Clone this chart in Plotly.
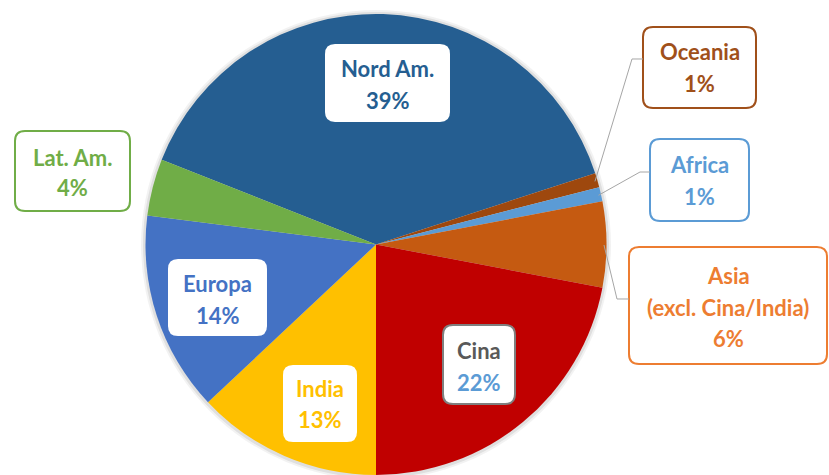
import math
import plotly.graph_objects as go

# ---- data ----
categories = ["Nord Am.", "Oceania", "Africa", "Asia (excl. Cina/India)",
              "Cina", "India", "Europa", "Lat. Am."]
shares = [39, 1, 1, 6, 22, 13, 14, 4]

# ---- styles ----
slice_colors = ["#255E91", "#9E480E", "#5B9BD5", "#C55A11",
                "#C00000", "#FFC000", "#4472C4", "#70AD47"]

W, H = 829, 475
CX, CY, R = 376, 245, 231
FONT = "Lato"
FS = 22


def px(x):
    return x / W


def py(y):
    return 1 - y / H


# India slice starts at 6 o'clock
idx_india = categories.index("India")
total = sum(shares)
rotation = 180 - 360 * sum(shares[:idx_india]) / total

fig = go.Figure()
fig.add_trace(go.Pie(
    labels=categories, values=shares, sort=False, direction="clockwise",
    rotation=rotation, textinfo="none", hoverinfo="label+percent",
    marker=dict(colors=slice_colors, line=dict(width=0)),
    domain=dict(x=[px(CX - R), px(CX + R)], y=[max(0, py(CY + R)), py(CY - R)]),
    showlegend=False,
))


def rrect(x0, y0, x1, y1, r=10):
    pts = [("M", x0 + r, y0), ("L", x1 - r, y0), ("Q", x1, y0, x1, y0 + r),
           ("L", x1, y1 - r), ("Q", x1, y1, x1 - r, y1), ("L", x0 + r, y1),
           ("Q", x0, y1, x0, y1 - r), ("L", x0, y0 + r), ("Q", x0, y0, x0 + r, y0)]
    s = ""
    for p in pts:
        cmd = p[0]
        coords = p[1:]
        parts = []
        for i in range(0, len(coords), 2):
            parts.append(f"{px(coords[i]):.5f},{py(coords[i+1]):.5f}")
        s += cmd + " " + " ".join(parts) + " "
    return s + "Z"


# label layout: box (px), line centers, line texts colours, border colour
label_layout = {
    "Nord Am.": dict(box=(325, 44, 450, 122), ys=(68, 100), lines=["Nord Am."],
                     colors=["#255E91", "#255E91"], border=None),
    "Oceania": dict(box=(643, 27, 756, 108), ys=(52, 83), lines=["Oceania"],
                    colors=["#A0501A", "#A0501A"], border="#A0501A",
                    leader=[(632, 59), (643, 59)]),
    "Africa": dict(box=(650, 139, 749, 221), ys=(164, 196), lines=["Africa"],
                   colors=["#5B9BD5", "#5B9BD5"], border="#5B9BD5",
                   leader=[(640, 172), (650, 172)]),
    "Asia (excl. Cina/India)": dict(box=(629, 247, 827, 364), ys=(275, 307, 338),
                                    lines=["Asia", "(excl. Cina/India)"],
                                    colors=["#ED7D31"] * 3, border="#ED7D31",
                                    leader=[(617, 299), (629, 299)]),
    "Cina": dict(box=(443, 325, 515, 404), ys=(350, 382), lines=["Cina"],
                 colors=["#595959", "#5B9BD5"], border="#7F7F7F"),
    "India": dict(box=(283, 365, 357, 442), ys=(388, 419), lines=["India"],
                  colors=["#FFC000", "#FFC000"], border=None),
    "Europa": dict(box=(168, 259, 267, 336), ys=(283, 315), lines=["Europa"],
                   colors=["#4472C4", "#4472C4"], border=None),
    "Lat. Am.": dict(box=(15, 131, 130, 211), ys=(158, 188), lines=["Lat. Am."],
                     colors=["#70AD47", "#70AD47"], border="#70AD47"),
}

shapes = []
annotations = []

# subtle shadow around pie
for k, op in [(4, 0.05), (2, 0.08)]:
    shapes.append(dict(type="circle", xref="paper", yref="paper",
                       x0=px(CX - R - k), x1=px(CX + R + k),
                       y0=py(CY + R + k), y1=py(CY - R - k),
                       fillcolor=f"rgba(0,0,0,{op})", line=dict(width=0),
                       layer="below"))

cum = 0
for cat, val in zip(categories, shares):
    mid = rotation + 360 * (cum + val / 2) / total
    cum += val
    L = label_layout[cat]
    x0, y0, x1, y1 = L["box"]
    shapes.append(dict(type="path", xref="paper", yref="paper",
                       path=rrect(x0, y0, x1, y1),
                       fillcolor="white",
                       line=dict(color=L["border"] or "white",
                                 width=2 if L["border"] else 0)))
    texts = L["lines"] + [f"{val}%"]
    xc = (x0 + x1) / 2
    for t, yy, col in zip(texts, L["ys"], L["colors"]):
        annotations.append(dict(xref="paper", yref="paper", x=px(xc), y=py(yy),
                                text=f"<b>{t}</b>", showarrow=False,
                                xanchor="center", yanchor="middle",
                                font=dict(family=FONT, size=FS, color=col)))
    if "leader" in L:
        a = math.radians(mid)
        sx = CX + (R - 3) * math.sin(a)
        sy = CY - (R - 3) * math.cos(a)
        pts = [(sx, sy)] + L["leader"]
        path = "M " + " L ".join(f"{px(x):.5f},{py(y):.5f}" for x, y in pts)
        shapes.append(dict(type="path", xref="paper", yref="paper", path=path,
                           line=dict(color="#A6A6A6", width=1)))

fig.update_layout(
    width=W, height=H, margin=dict(l=0, r=0, t=0, b=0),
    paper_bgcolor="white", plot_bgcolor="white",
    shapes=shapes, annotations=annotations,
)

fig.write_html("out.html", config={"displayModeBar": False},
               post_script="document.body.style.margin='0px';"
                           "document.body.style.overflow='hidden';")
